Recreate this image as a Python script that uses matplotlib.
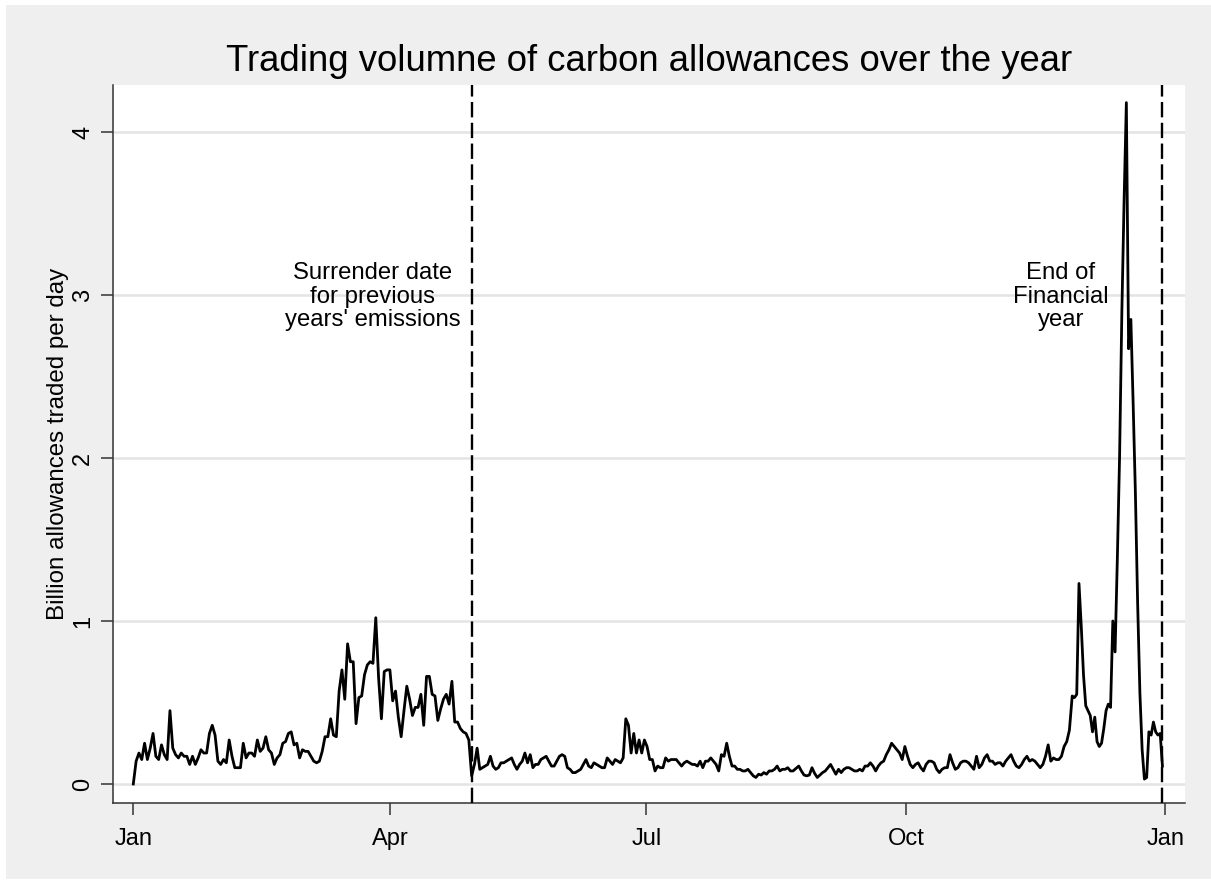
import numpy as np
import pandas as pd
import matplotlib
matplotlib.use("Agg")
import matplotlib.pyplot as plt
import matplotlib.dates as mdates
from matplotlib.patches import Rectangle

plt.rcParams['font.family'] = ['Liberation Sans', 'DejaVu Sans']

# ---------------- data (billion allowances traded per day) ----------------
seg_a_start, seg_a_end = "2020-01-01", "2020-04-30"
seg_a = [0.00, 0.14, 0.19, 0.15, 0.25, 0.15, 0.22, 0.31, 0.17, 0.15,
         0.24, 0.18, 0.15, 0.45, 0.22, 0.18, 0.16, 0.19, 0.17, 0.17,
         0.12, 0.17, 0.12, 0.16, 0.21, 0.19, 0.19, 0.31, 0.36, 0.30,
         0.14, 0.12, 0.15, 0.13, 0.27, 0.17, 0.10, 0.10, 0.10, 0.25,
         0.16, 0.19, 0.19, 0.17, 0.27, 0.20, 0.22, 0.29, 0.21, 0.19,
         0.12, 0.16, 0.18, 0.25, 0.26, 0.31, 0.32, 0.24, 0.25, 0.16,
         0.21, 0.20, 0.20, 0.17, 0.14, 0.13, 0.14, 0.20, 0.29, 0.29,
         0.40, 0.30, 0.29, 0.57, 0.70, 0.52, 0.86, 0.75, 0.75, 0.37,
         0.53, 0.54, 0.67, 0.73, 0.75, 0.74, 1.02, 0.65, 0.40, 0.69,
         0.70, 0.70, 0.51, 0.57, 0.41, 0.29, 0.45, 0.60, 0.52, 0.42,
         0.47, 0.47, 0.55, 0.36, 0.66, 0.66, 0.55, 0.54, 0.39, 0.46,
         0.52, 0.55, 0.49, 0.63, 0.38, 0.38, 0.34, 0.32, 0.31, 0.27, 0.05]

seg_b_start, seg_b_end = "2020-05-01", "2020-08-22"
seg_b = [0.12, 0.22, 0.09, 0.10, 0.11, 0.12, 0.17, 0.11, 0.09, 0.10,
         0.13, 0.13, 0.14, 0.15, 0.16, 0.12, 0.09, 0.12, 0.14, 0.19,
         0.13, 0.18, 0.10, 0.12, 0.12, 0.15, 0.16, 0.17, 0.14, 0.11,
         0.11, 0.14, 0.17, 0.18, 0.17, 0.10, 0.09, 0.07, 0.07, 0.08,
         0.09, 0.12, 0.15, 0.11, 0.10, 0.13, 0.12, 0.11, 0.10, 0.10,
         0.16, 0.14, 0.12, 0.15, 0.14, 0.13, 0.16, 0.40, 0.36, 0.19,
         0.31, 0.19, 0.27, 0.19, 0.27, 0.23, 0.15, 0.15, 0.08, 0.11,
         0.10, 0.10, 0.16, 0.14, 0.15, 0.15, 0.15, 0.13, 0.11, 0.13,
         0.14, 0.13, 0.12, 0.12, 0.11, 0.14, 0.10, 0.14, 0.14, 0.16,
         0.14, 0.12, 0.08, 0.18, 0.17, 0.25, 0.17, 0.11, 0.11, 0.09,
         0.09, 0.08, 0.08, 0.09, 0.07, 0.05, 0.04, 0.06, 0.055, 0.07,
         0.06, 0.08, 0.08, 0.09, 0.11, 0.08, 0.09, 0.09, 0.10, 0.08, 0.08]

seg_c_start, seg_c_end = "2020-08-24", "2020-11-28"
seg_c = [0.11, 0.08, 0.055, 0.05, 0.055, 0.10, 0.065, 0.04, 0.055, 0.07,
         0.08, 0.10, 0.12, 0.09, 0.06, 0.09, 0.07, 0.09, 0.10, 0.10,
         0.09, 0.08, 0.08, 0.09, 0.08, 0.11, 0.11, 0.13, 0.11, 0.08,
         0.11, 0.13, 0.14, 0.18, 0.21, 0.25, 0.23, 0.21, 0.19, 0.15,
         0.23, 0.17, 0.12, 0.10, 0.12, 0.13, 0.10, 0.08, 0.12, 0.14,
         0.14, 0.13, 0.09, 0.07, 0.09, 0.10, 0.10, 0.18, 0.13, 0.09,
         0.10, 0.13, 0.14, 0.14, 0.13, 0.11, 0.09, 0.17, 0.10, 0.12,
         0.16, 0.18, 0.14, 0.14, 0.12, 0.13, 0.13, 0.11, 0.14, 0.16,
         0.18, 0.14, 0.11, 0.10, 0.12, 0.15, 0.17, 0.14, 0.15, 0.14,
         0.12, 0.10, 0.12, 0.17, 0.24, 0.14, 0.16, 0.15, 0.15, 0.17,
         0.23, 0.26, 0.33]

seg_d_start, seg_d_end = "2020-11-29", "2020-12-31"
seg_d = [0.54, 0.53, 0.55, 1.23, 0.97, 0.67, 0.48, 0.45, 0.42, 0.32,
         0.41, 0.26, 0.23, 0.25, 0.34, 0.45, 0.49, 0.47, 1.00, 0.81,
         1.38, 2.01, 2.89, 3.58, 4.18, 2.67, 2.85, 2.34, 1.79, 1.11,
         0.56, 0.21, 0.03, 0.04, 0.32, 0.30, 0.38, 0.32, 0.30, 0.31, 0.11]

event_dates = ["2020-04-30", "2020-12-31"]
event_labels = ["Surrender date\nfor previous\nyears' emissions", "End of\nFinancial\nyear"]
label_dates = ["2020-03-26", "2020-11-25"]
label_y = [2.99, 2.99]

y_ticks = [0, 1, 2, 3, 4]
x_tick_months = [1, 4, 7, 10]
title = "Trading volumne of carbon allowances over the year"
ylabel = "Billion allowances traded per day"

# ---------------- build series ----------------
segments = [(seg_a_start, seg_a_end, seg_a), (seg_b_start, seg_b_end, seg_b),
            (seg_c_start, seg_c_end, seg_c), (seg_d_start, seg_d_end, seg_d)]
dates = []
vals = []
for s, e, v in segments:
    dates.extend(pd.date_range(s, e, periods=len(v)))
    vals.extend(v)
series = pd.Series(vals, index=pd.DatetimeIndex(dates))

# ---------------- figure ----------------
W, H = 1211, 882
fig = plt.figure(figsize=(W / 100, H / 100), dpi=100, facecolor='white')
fig.patches.append(Rectangle((6 / W, 1 - 879 / H), (W - 6) / W, (879 - 5) / H,
                             transform=fig.transFigure, facecolor='#efefef',
                             edgecolor='none', zorder=-10))

ax = fig.add_axes([113 / W, 1 - 803 / H, (1185 - 113) / W, (803 - 85) / H])
ax.set_facecolor('white')

ax.plot(series.index, series.values, color='black', lw=2.0,
        solid_joinstyle='round', zorder=3)

for d in event_dates:
    ax.axvline(pd.Timestamp(d), color='black', lw=1.7, dashes=(6.5, 2.3), zorder=4)

for d, t, y in zip(label_dates, event_labels, label_y):
    ax.text(pd.Timestamp(d), y, t, ha='center', va='center', fontsize=17.2,
            linespacing=1.08, color='black', zorder=5)

# axes limits
start = mdates.date2num(pd.Timestamp("2020-01-01"))
ax.set_xlim(start - 7.2, start + 373.0)
ax.set_ylim(-0.1166, 4.288)

ax.set_yticks(y_ticks)
ax.yaxis.grid(True, color='#e4e4e4', lw=1.8, zorder=0)
ax.set_axisbelow(True)

ax.xaxis.set_major_locator(mdates.MonthLocator(bymonth=x_tick_months))
ax.xaxis.set_major_formatter(mdates.DateFormatter('%b'))

for side in ['top', 'right']:
    ax.spines[side].set_visible(False)
for side in ['left', 'bottom']:
    ax.spines[side].set_color('#333333')
    ax.spines[side].set_linewidth(1.1)

ax.tick_params(axis='both', length=8.5, width=1.1, color='#333333', labelsize=17)
ax.tick_params(axis='x', pad=9.5)
ax.tick_params(axis='y', pad=5)
for lab in ax.get_yticklabels():
    lab.set_rotation(90)
    lab.set_va('center')

ax.set_title(title, fontsize=26.3, pad=10)
ax.set_ylabel(ylabel, fontsize=17.4, labelpad=2)

fig.savefig("out.png", dpi=100, facecolor=fig.get_facecolor())
